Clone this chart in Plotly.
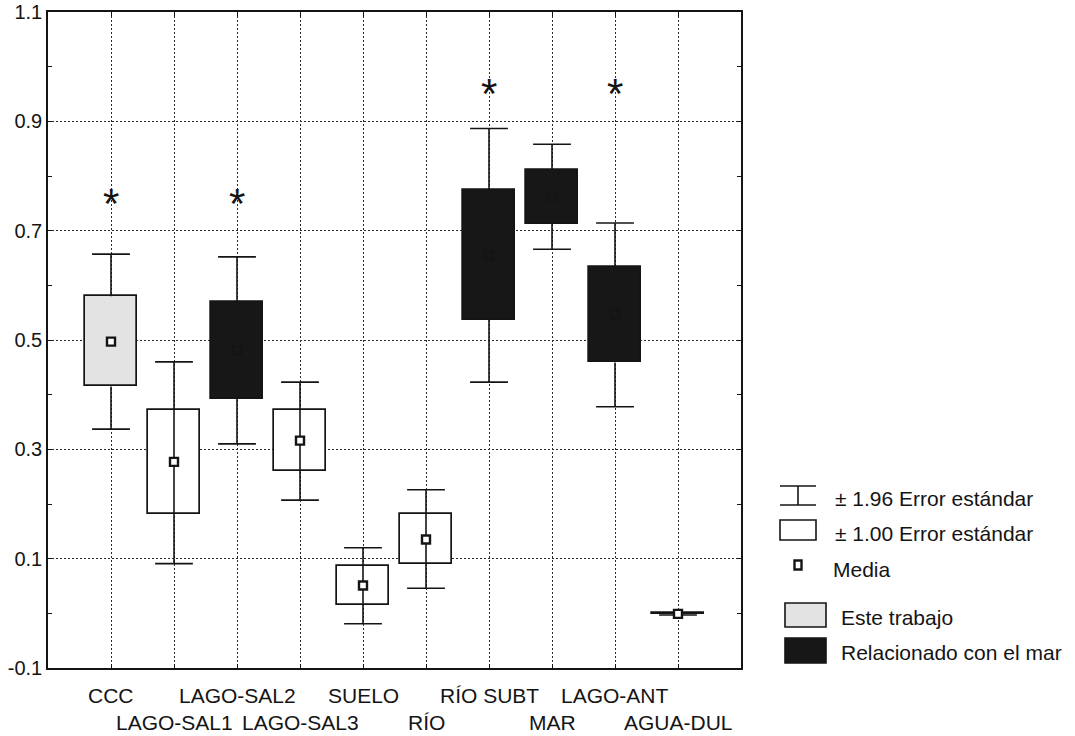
import plotly.graph_objects as go

# ---------------- data ----------------
categories = ["CCC", "LAGO-SAL1", "LAGO-SAL2", "LAGO-SAL3", "SUELO",
              "RÍO", "RÍO SUBT", "MAR", "LAGO-ANT", "AGUA-DUL"]
means      = [0.497, 0.277, 0.481, 0.316, 0.051, 0.135, 0.655, 0.762, 0.547, -0.001]
se1_low    = [0.415, 0.182, 0.392, 0.260, 0.015, 0.090, 0.537, 0.713, 0.459, -0.002]
se1_high   = [0.580, 0.372, 0.569, 0.372, 0.086, 0.182, 0.774, 0.811, 0.634, 0.000]
se196_low  = [0.337, 0.091, 0.310, 0.207, -0.019, 0.046, 0.423, 0.666, 0.378, -0.003]
se196_high = [0.657, 0.460, 0.652, 0.423, 0.120, 0.226, 0.887, 0.858, 0.714, 0.001]
groups     = ["este", "otro", "mar", "otro", "otro", "otro", "mar", "mar", "mar", "otro"]
star_cats  = ["CCC", "LAGO-SAL2", "RÍO SUBT", "LAGO-ANT"]
star_y     = [0.768, 0.768, 0.969, 0.969]
y_ticks    = [-0.1, 0.1, 0.3, 0.5, 0.7, 0.9, 1.1]
legend_labels = ["± 1.96 Error estándar", "± 1.00 Error estándar", "Media",
                 "Este trabajo", "Relacionado con el mar"]

# ---------------- styles ----------------
FONT = "Liberation Sans, Arial, sans-serif"
INK = "#141414"
fills = {"este": "#e3e3e3", "otro": "#ffffff", "mar": "#171717"}
BOX_W = 0.81
CAP_HALF = 0.30
GRID_DASH = "1.5px,2.5px"

W, H = 1075, 736
ML, MR, MT, MB = 48, 334, 12, 68
PW, PH = W - ML - MR, H - MT - MB


def px(x):
    return (x - ML) / PW


def py(y):
    return (H - MB - y) / PH


idx = list(range(len(categories)))
fig = go.Figure()

# boxes (mean ± 1 SE)
fig.add_trace(go.Bar(
    x=idx,
    y=[h - l for l, h in zip(se1_low, se1_high)],
    base=se1_low,
    width=BOX_W,
    marker=dict(color=[fills[g] for g in groups], line=dict(color=INK, width=1.7)),
    hoverinfo="skip", showlegend=False,
))

# whiskers (mean ± 1.96 SE)
wx, wy = [], []
for i, g in enumerate(groups):
    if g == "otro":
        wx += [i, i, None]
        wy += [se196_low[i], se196_high[i], None]
    else:
        wx += [i, i, None, i, i, None]
        wy += [se196_low[i], se1_low[i], None, se1_high[i], se196_high[i], None]
    for v in (se196_low[i], se196_high[i]):
        wx += [i - CAP_HALF, i + CAP_HALF, None]
        wy += [v, v, None]
fig.add_trace(go.Scatter(x=wx, y=wy, mode="lines", line=dict(color=INK, width=1.6),
                         hoverinfo="skip", showlegend=False))

# means
fig.add_trace(go.Scatter(
    x=idx, y=means, mode="markers",
    marker=dict(symbol="square", size=8,
                color=["#ffffff" if g != "mar" else fills["mar"] for g in groups],
                line=dict(color=INK, width=2.4)),
    hoverinfo="skip", showlegend=False,
))

annotations = []
# category labels, alternating rows
for i, c in enumerate(categories):
    annotations.append(dict(
        x=i, y=py(695) if i % 2 == 0 else py(722), xref="x", yref="paper",
        text=c, showarrow=False, xanchor="center", yanchor="middle",
        font=dict(family=FONT, size=21, color=INK)))

# significance asterisks
for c, v in zip(star_cats, star_y):
    annotations.append(dict(
        x=categories.index(c), y=v, xref="x", yref="y", text="*", showarrow=False,
        xanchor="center", yanchor="middle", yshift=-10,
        font=dict(family=FONT, size=42, color=INK)))

# custom legend
shapes = []
lw = dict(color=INK, width=1.6)
shapes += [
    dict(type="line", xref="paper", yref="paper", x0=px(780), x1=px(816), y0=py(486), y1=py(486), line=lw),
    dict(type="line", xref="paper", yref="paper", x0=px(780), x1=px(816), y0=py(505), y1=py(505), line=lw),
    dict(type="line", xref="paper", yref="paper", x0=px(798), x1=px(798), y0=py(486), y1=py(505), line=lw),
]
shapes.append(dict(type="rect", xref="paper", yref="paper", x0=px(780), x1=px(816),
                   y0=py(540), y1=py(520), line=lw, fillcolor="#ffffff"))
shapes.append(dict(type="rect", xref="paper", yref="paper", x0=px(794.5), x1=px(801.5),
                   y0=py(569.5), y1=py(560.5), line=dict(color=INK, width=2.4), fillcolor="#ffffff"))
shapes.append(dict(type="rect", xref="paper", yref="paper", x0=px(785), x1=px(826),
                   y0=py(627), y1=py(603), line=lw, fillcolor=fills["este"]))
shapes.append(dict(type="rect", xref="paper", yref="paper", x0=px(785), x1=px(826),
                   y0=py(663), y1=py(638), line=lw, fillcolor=fills["mar"]))

legend_pos = [(833, 498), (833, 533), (831, 569), (839, 617), (839, 652)]
for t, (lx, ly) in zip(legend_labels, legend_pos):
    annotations.append(dict(
        x=px(lx), y=py(ly), xref="paper", yref="paper", text=t, showarrow=False,
        xanchor="left", yanchor="middle", font=dict(family=FONT, size=21, color=INK)))

fig.update_layout(
    template="none",
    width=W, height=H,
    margin=dict(l=ML, r=MR, t=MT, b=MB, autoexpand=False),
    paper_bgcolor="white", plot_bgcolor="white",
    font=dict(family=FONT, size=20, color=INK),
    showlegend=False,
    bargap=0,
    annotations=annotations,
    shapes=shapes,
)
fig.update_xaxes(
    range=[-1, 10], tickvals=idx, showticklabels=False, automargin=False,
    ticks="inside", ticklen=4, tickcolor=INK, tickwidth=1,
    showline=True, linecolor=INK, linewidth=1.6, mirror="ticks",
    showgrid=True, gridcolor="#2a2a2a", gridwidth=1, griddash=GRID_DASH,
    zeroline=False,
)
fig.update_yaxes(
    range=[-0.1, 1.1], tickvals=y_ticks, ticktext=[f"{v:.1f}" for v in y_ticks],
    automargin=False,
    ticks="inside", ticklen=4, tickcolor=INK, tickwidth=1,
    minor=dict(tickvals=[0.0, 0.2, 0.4, 0.6, 0.8, 1.0], ticks="inside", ticklen=4,
               tickcolor=INK, tickwidth=1, showgrid=False),
    showline=True, linecolor=INK, linewidth=1.6, mirror="ticks",
    showgrid=True, gridcolor="#2a2a2a", gridwidth=1, griddash=GRID_DASH,
    zeroline=False, tickfont=dict(size=20, family=FONT, color=INK),
)

fig.write_html("out.html", config={"displayModeBar": False},
               post_script="document.body.style.margin='0';")
